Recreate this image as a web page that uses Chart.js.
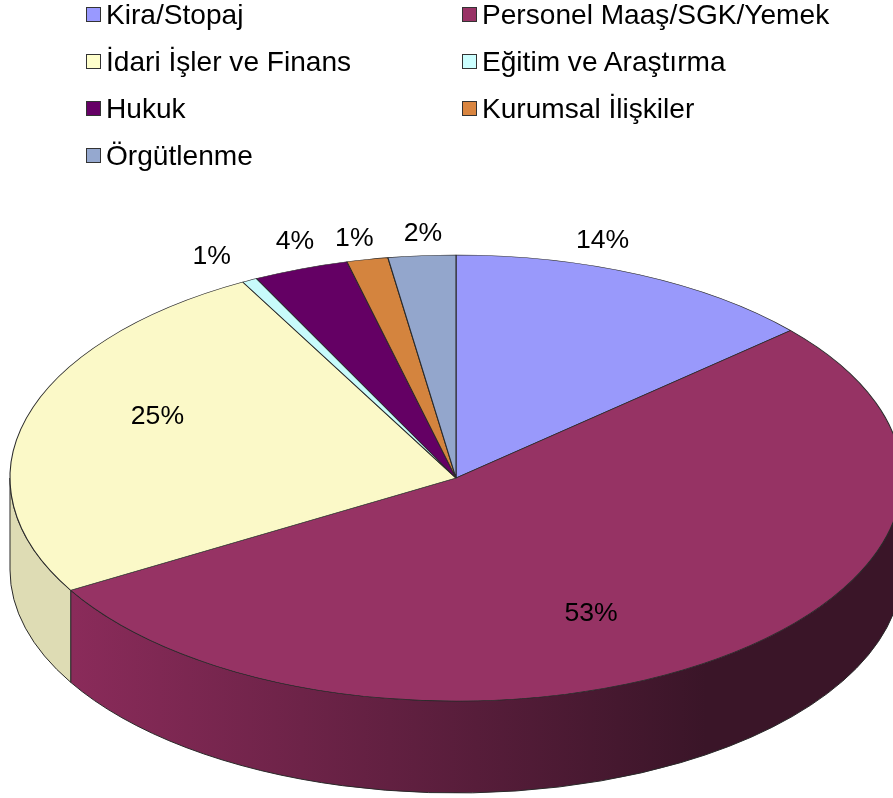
<!DOCTYPE html>
<html>
<head>
<meta charset="utf-8">
<style>
    html, body { margin: 0; padding: 0; background: #fff; overflow: hidden; }
    #wrap { position: relative; width: 893px; height: 798px; }
    #pieChart { position: absolute; left: 0; top: 0; }
    #legend { position: absolute; left: 86px; top: -9px; display: grid; grid-template-columns: 376px auto; grid-auto-rows: 47px;
              font: 28.1px "Liberation Sans", Arial, sans-serif; color: #000; }
    .item { display: flex; align-items: center; white-space: nowrap; }
    .box { width: 13px; height: 13px; border: 1px solid #333; margin-right: 5px; flex: none; }
</style>
</head>
<body>
<div id="wrap">
    <canvas id="pieChart" width="893" height="798"></canvas>
    <div id="legend"></div>
</div>
<script src="https://cdn.jsdelivr.net/npm/chart.js@4"></script>
<script>
const categories = ['Kira/Stopaj', 'Personel Maaş/SGK/Yemek', 'İdari İşler ve Finans', 'Eğitim ve Araştırma', 'Hukuk', 'Kurumsal İlişkiler', 'Örgütlenme'];
const shares = [13.5, 53.1, 25.47, 0.55, 3.45, 1.49, 2.44];
const shareLabels = ['14%', '53%', '25%', '1%', '4%', '1%', '2%'];
const topColors = ['#9999fb', '#963364', '#fbf9c8', '#c8fbfb', '#640064', '#d4843e', '#93a6cc'];
const legendColors = ['#9999ff', '#993366', '#ffffcc', '#ccffff', '#660066', '#d98540', '#95a8cf'];
const wallLeft = ['#9999fb', '#8a2b5a', '#dedcb4', '#c8fbfb', '#640064', '#d4843e', '#93a6cc'];
const wallRight = ['#9999fb', '#3a1528', '#dedcb4', '#c8fbfb', '#640064', '#d4843e', '#93a6cc'];

const SQUASH = 0.5;
const DEPTH = 92;
const TAU = Math.PI * 2;

// Легенда
const legendBox = document.getElementById('legend');
categories.forEach(function (name, i) {
    const item = document.createElement('div');
    item.className = 'item';
    const box = document.createElement('span');
    box.className = 'box';
    box.style.background = legendColors[i];
    item.appendChild(box);
    item.appendChild(document.createTextNode(name));
    legendBox.appendChild(item);
});

// Наклон круга и боковая стенка
const tiltPlugin = {
    id: 'tilt',
    beforeDatasetsDraw(chart) {
        const ctx = chart.ctx;
        const arcs = chart.getDatasetMeta(0).data;
        const cx = arcs[0].x, cy = arcs[0].y, rx = arcs[0].outerRadius, ry = rx * SQUASH;

        arcs.forEach(function (arc, i) {
            // видна только нижняя половина стенки
            let a0 = arc.startAngle, a1 = arc.endAngle;
            if (a0 < 0 && a1 <= 0) { a0 += TAU; a1 += TAU; }
            a0 = Math.max(a0, 0);
            a1 = Math.min(a1, Math.PI);
            if (a1 <= a0) return;

            const grad = ctx.createLinearGradient(cx - rx, 0, cx + rx, 0);
            grad.addColorStop(0.07, wallLeft[i]);
            grad.addColorStop(0.78, wallRight[i]);

            ctx.beginPath();
            ctx.ellipse(cx, cy, rx, ry, 0, a0, a1);
            ctx.ellipse(cx, cy + DEPTH, rx, ry, 0, a1, a0, true);
            ctx.closePath();
            ctx.fillStyle = grad;
            ctx.fill();
            ctx.strokeStyle = '#2a2a2a';
            ctx.lineWidth = 1;
            ctx.stroke();
        });

        ctx.save();
        ctx.translate(cx, cy);
        ctx.scale(1, SQUASH);
        ctx.translate(-cx, -cy);
    },
    afterDatasetsDraw(chart, args, opts) {
        const ctx = chart.ctx;
        ctx.restore();

        // Подписи долей
        const arcs = chart.getDatasetMeta(0).data;
        ctx.save();
        ctx.font = '26.6px "Liberation Sans", Arial, sans-serif';
        ctx.fillStyle = '#000';
        ctx.textAlign = 'center';
        ctx.textBaseline = 'middle';
        arcs.forEach(function (arc, i) {
            const mid = (arc.startAngle + arc.endAngle) / 2;
            const x = arc.x + arc.outerRadius * Math.cos(mid) + opts.nudge[i][0];
            const y = arc.y + arc.outerRadius * SQUASH * Math.sin(mid) + opts.nudge[i][1];
            ctx.fillText(shareLabels[i], x, y);
        });
        ctx.restore();
    }
};

new Chart(document.getElementById('pieChart').getContext('2d'), {
    type: 'pie',
    plugins: [tiltPlugin],
    data: {
        labels: categories,
        datasets: [{
            data: shares,
            backgroundColor: topColors,
            borderColor: '#2a2a2a',
            borderWidth: 1.1,
            clip: false
        }]
    },
    options: {
        responsive: false,
        animation: false,
        radius: 446,
        layout: { padding: { left: 19, top: 158 } },
        plugins: {
            legend: { display: false },
            tooltip: { enabled: false },
            tilt: { nudge: [[-37, -34], [-126, -45], [131, -1], [-38, -24], [-6, -27], [-13, -21], [1, -22]] }
        }
    }
});
</script>
</body>
</html>
